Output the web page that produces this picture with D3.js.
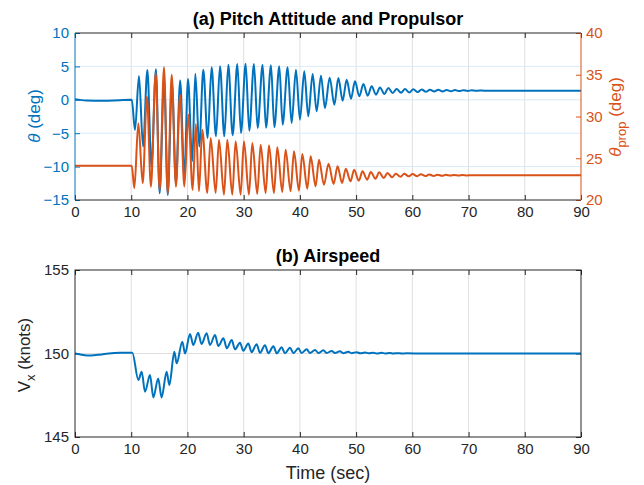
<!DOCTYPE html>
<html><head><meta charset="utf-8">
<script src="https://cdn.jsdelivr.net/npm/d3@7"></script>
<style>body{margin:0;background:#fff}</style>
</head><body><svg id="c" width="644" height="485"></svg>
<script>
// ---------- data ----------
const timeTicks = [0,10,20,30,40,50,60,70,80,90];
const thetaTicks = [-15,-10,-5,0,5,10];
const propTicks = [20,25,30,35,40];
const vxTicks = [145,150,155];

// pitch attitude theta (deg): [time s, value] at turning points
const thetaPts = [[0,0.1],[2,-0.1],[5,-0.15],[8,-0.05],[10.1,0.0],[10.67,-4.5],[11.38,3.56],[12.1,-7.0],[12.87,4.46],[13.6,-10.0],[14.4,4.56],[15.05,-14.0],[15.85,3.0],[16.5,-14.25],[17.25,2.5],[17.95,-12.5],[18.7,2.9],[19.45,-11.5],[20.1,3.1],[20.85,-9.2],[21.4,3.9],[22.1,-7.0],[22.82,4.51],[23.59,-5.72],[24.3,4.86],[25.07,-5.47],[25.79,5.01],[26.56,-5.47],[27.27,5.26],[28.04,-5.32],[28.87,5.36],[29.52,-4.97],[30.35,5.41],[31.0,-4.62],[31.83,5.36],[32.48,-4.22],[33.37,5.26],[33.97,-4.2],[34.86,5.16],[35.45,-4.12],[36.34,5.01],[36.93,-3.72],[37.82,4.86],[38.53,-3.47],[39.3,4.51],[40.01,-2.97],[40.78,4.26],[41.49,-2.47],[42.27,3.86],[42.98,-1.72],[43.75,3.61],[44.46,-1.22],[45.3,3.3],[46.13,-0.73],[46.84,3.26],[47.61,-0.13],[48.32,3.01],[49.09,0.17],[49.8,2.76],[50.58,0.52],[51.29,2.37],[52.06,0.62],[52.77,2.01],[53.54,0.77],[54.25,1.86],[55.02,0.87],[55.73,1.77],[56.5,1.02],[57.21,1.62],[57.99,1.07],[58.7,1.6],[59.47,1.1],[60.18,1.57],[60.95,1.15],[61.66,1.55],[62.43,1.2],[63.14,1.52],[63.9,1.23],[64.62,1.5],[65.4,1.26],[66.1,1.48],[66.88,1.28],[67.59,1.46],[68.36,1.3],[69.07,1.44],[69.85,1.32],[70.56,1.42],[71.3,1.34],[72.0,1.4],[72.8,1.36],[74,1.37],[90,1.37]];

// propulsor pitch theta_prop (deg)
const propPts = [[0,24.1],[10.1,24.1],[10.55,21.4],[11.27,29.18],[12.04,22.0],[12.8,32.4],[13.5,21.6],[14.35,35.2],[15.06,21.2],[15.83,35.9],[16.5,20.8],[17.2,35.0],[17.96,21.6],[18.68,32.6],[19.45,21.6],[20.16,30.2],[20.93,21.2],[21.5,29.1],[22.05,21.04],[22.64,28.42],[23.53,20.84],[24.13,27.43],[25.02,20.84],[25.61,27.23],[26.5,20.64],[27.09,27.23],[27.98,20.64],[28.57,27.03],[29.46,20.64],[30.05,27.03],[30.94,20.64],[31.54,26.83],[32.42,20.72],[33.02,26.63],[33.91,20.84],[34.5,26.55],[35.39,20.84],[35.98,26.31],[36.87,20.96],[37.46,26.03],[38.35,21.04],[38.95,25.83],[39.83,21.12],[40.43,25.51],[41.32,21.36],[41.91,25.23],[42.8,21.64],[43.39,24.83],[44.28,21.84],[45.1,24.35],[46.0,21.92],[46.7,24.03],[47.5,22.04],[48.17,23.75],[49.0,22.24],[49.65,23.63],[50.48,22.32],[51.14,23.43],[51.96,22.44],[52.62,23.35],[53.44,22.55],[54.1,23.31],[54.92,22.63],[55.58,23.23],[56.4,22.71],[57.06,23.15],[57.89,22.79],[58.55,23.13],[59.37,22.83],[60.03,23.1],[60.85,22.85],[61.51,23.07],[62.33,22.87],[62.99,23.05],[63.8,22.88],[64.47,23.03],[65.3,22.9],[65.95,23.01],[66.78,22.92],[67.44,23.0],[68.26,22.93],[68.92,22.99],[69.75,22.94],[70.41,22.97],[72,22.96],[90,22.96]];

// airspeed V_x (knots)
const vxPts = [[0,150.0],[0.8,149.95],[2.2,149.88],[4,149.92],[6,150.0],[8,150.04],[10.2,150.05],[11.27,148.41],[11.86,148.91],[12.45,147.71],[13.34,148.71],[13.93,147.37],[14.8,148.51],[15.4,147.37],[16.3,148.91],[16.78,148.11],[17.67,150.11],[18.08,149.41],[19.09,150.71],[19.57,150.0],[20.45,151.17],[21.05,150.51],[21.9,151.25],[22.5,150.57],[23.42,151.21],[24.0,150.51],[24.9,151.11],[25.5,150.45],[26.4,150.91],[27.0,150.31],[27.87,150.81],[28.46,150.25],[29.35,150.65],[29.94,150.17],[30.83,150.6],[31.4,150.08],[32.3,150.55],[32.9,150.04],[33.8,150.5],[34.4,150.02],[35.28,150.43],[35.9,150.01],[36.76,150.37],[37.35,150.01],[38.24,150.35],[38.85,150.02],[39.72,150.31],[40.3,150.03],[41.21,150.25],[41.8,150.03],[42.69,150.21],[43.3,150.03],[44.17,150.19],[44.75,150.03],[45.65,150.15],[46.25,150.03],[47.13,150.13],[47.7,150.02],[48.62,150.1],[49.2,150.02],[50.1,150.08],[50.7,150.01],[51.58,150.06],[52.2,150.01],[53.06,150.05],[53.65,150.0],[54.55,150.04],[55.15,150.0],[56.0,150.03],[56.6,150.0],[57.5,150.02],[58.1,150.0],[59.0,150.01],[62,150.0],[90,150.0]];

// ---------- drawing ----------
const svg = d3.select('#c');
const FONT = '"Liberation Sans", Arial, Helvetica, sans-serif';
const blue = '#0072BD', orange = '#D95319', dark = '#262626';
const gridGray = '#dfdfdf', gridBlue = '#d9eaf5';
const L = 75, R = 581;
const top1 = 33, bot1 = 200, top2 = 270, bot2 = 437;
const LW = 2;

const x = d3.scaleLinear().domain([0,90]).range([L,R]);
const yTheta = d3.scaleLinear().domain([-15,10]).range([bot1,top1]);
const yProp = d3.scaleLinear().domain([20,40]).range([bot1,top1]);
const yVx = d3.scaleLinear().domain([145,155]).range([bot2,top2]);

function styleAxis(g, color, size, showLabels) {
  g.select('.domain').remove();
  g.selectAll('.tick line').attr('stroke', color).attr('stroke-width', 1);
  g.selectAll('.tick text').attr('fill', color).attr('font-family', FONT).attr('font-size', size);
  if (!showLabels) g.selectAll('.tick text').remove();
}

function panel(top, bot, yL, yLticks, gridColor) {
  const gg = svg.append('g');
  gg.selectAll('line.vx').data(timeTicks.slice(1, -1)).join('line')
    .attr('x1', d => x(d)).attr('x2', d => x(d)).attr('y1', top).attr('y2', bot)
    .attr('stroke', gridGray).attr('stroke-width', 1);
  gg.selectAll('line.hy').data(yLticks.slice(1, -1)).join('line')
    .attr('x1', L).attr('x2', R).attr('y1', d => yL(d)).attr('y2', d => yL(d))
    .attr('stroke', gridColor).attr('stroke-width', 1);
  const gb = svg.append('g').attr('transform', `translate(0,${bot})`)
    .call(d3.axisBottom(x).tickValues(timeTicks).tickSize(-5).tickPadding(6));
  styleAxis(gb, dark, 15, true);
  const gt = svg.append('g').attr('transform', `translate(0,${top})`)
    .call(d3.axisTop(x).tickValues(timeTicks).tickSize(-5));
  styleAxis(gt, dark, 15, false);
}

// ---- panel (a)
panel(top1, bot1, yTheta, thetaTicks, gridBlue);
const gl1 = svg.append('g').attr('transform', `translate(${L},0)`)
  .call(d3.axisLeft(yTheta).tickValues(thetaTicks).tickSize(-5).tickPadding(6));
styleAxis(gl1, blue, 15, true);
const gr1 = svg.append('g').attr('transform', `translate(${R},0)`)
  .call(d3.axisRight(yProp).tickValues(propTicks).tickSize(-5).tickPadding(5));
styleAxis(gr1, orange, 15, true);

const lineTheta = d3.line().x(d => x(d[0])).y(d => yTheta(d[1])).curve(d3.curveMonotoneX);
const lineProp = d3.line().x(d => x(d[0])).y(d => yProp(d[1])).curve(d3.curveMonotoneX);
svg.append('path').attr('d', lineTheta(thetaPts)).attr('fill', 'none')
  .attr('stroke', blue).attr('stroke-width', LW).attr('stroke-linejoin', 'round');
svg.append('path').attr('d', lineProp(propPts)).attr('fill', 'none')
  .attr('stroke', orange).attr('stroke-width', LW).attr('stroke-linejoin', 'round');

svg.append('line').attr('x1', L).attr('x2', R).attr('y1', top1).attr('y2', top1).attr('stroke', dark);
svg.append('line').attr('x1', L).attr('x2', R).attr('y1', bot1).attr('y2', bot1).attr('stroke', dark);
svg.append('line').attr('x1', L).attr('x2', L).attr('y1', top1).attr('y2', bot1).attr('stroke', blue);
svg.append('line').attr('x1', R).attr('x2', R).attr('y1', top1).attr('y2', bot1).attr('stroke', orange);

// ---- panel (b)
panel(top2, bot2, yVx, vxTicks, gridGray);
const gl2 = svg.append('g').attr('transform', `translate(${L},0)`)
  .call(d3.axisLeft(yVx).tickValues(vxTicks).tickSize(-5).tickPadding(6));
styleAxis(gl2, dark, 15, true);
const gr2 = svg.append('g').attr('transform', `translate(${R},0)`)
  .call(d3.axisRight(yVx).tickValues(vxTicks).tickSize(-5));
styleAxis(gr2, dark, 15, false);
const lineVx = d3.line().x(d => x(d[0])).y(d => yVx(d[1])).curve(d3.curveMonotoneX);
svg.append('path').attr('d', lineVx(vxPts)).attr('fill', 'none')
  .attr('stroke', blue).attr('stroke-width', LW).attr('stroke-linejoin', 'round');
svg.append('rect').attr('x', L).attr('y', top2).attr('width', R - L).attr('height', bot2 - top2)
  .attr('fill', 'none').attr('stroke', dark);

// ---- titles and labels
svg.append('text').attr('x', (L + R) / 2).attr('y', 25).attr('text-anchor', 'middle')
  .attr('font-family', FONT).attr('font-size', 18).attr('font-weight', 'bold').attr('fill', '#000')
  .text('(a) Pitch Attitude and Propulsor');
svg.append('text').attr('x', (L + R) / 2).attr('y', 262).attr('text-anchor', 'middle')
  .attr('font-family', FONT).attr('font-size', 18).attr('font-weight', 'bold').attr('fill', '#000')
  .text('(b) Airspeed');
svg.append('text').attr('x', (L + R) / 2).attr('y', 479).attr('text-anchor', 'middle')
  .attr('font-family', FONT).attr('font-size', 18).attr('fill', dark)
  .text('Time (sec)');

const tl = svg.append('text').attr('transform', 'translate(40,116) rotate(-90)')
  .attr('text-anchor', 'middle').attr('font-family', FONT).attr('font-size', 17).attr('fill', blue);
tl.append('tspan').attr('font-style', 'italic').text('θ');
tl.append('tspan').text(' (deg)');

const tr = svg.append('text').attr('transform', 'translate(621,117) rotate(-90)')
  .attr('text-anchor', 'middle').attr('font-family', FONT).attr('font-size', 17).attr('fill', orange);
tr.append('tspan').attr('font-style', 'italic').text('θ');
tr.append('tspan').attr('dy', 5).attr('font-size', 13).text('prop');
tr.append('tspan').attr('dy', -5).text(' (deg)');

const vl = svg.append('text').attr('transform', 'translate(30,355) rotate(-90)')
  .attr('text-anchor', 'middle').attr('font-family', FONT).attr('font-size', 17).attr('fill', dark);
vl.append('tspan').text('V');
vl.append('tspan').attr('dy', 5).attr('font-size', 13).text('x');
vl.append('tspan').attr('dy', -5).text(' (knots)');
</script></body></html>
